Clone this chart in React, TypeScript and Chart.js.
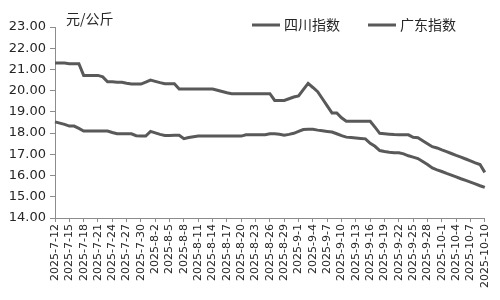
import React, { useEffect, useRef } from "react";
import { Chart, registerables } from "chart.js";

Chart.register(...registerables);

const unitLabel = "元/公斤";
const seriesNames = ["四川指数", "广东指数"];

// daily categories 2025-7-12 .. 2025-10-10
const categories: string[] = (() => {
  const out: string[] = [];
  const d = new Date(2025, 6, 12);
  for (let i = 0; i < 91; i++) {
    out.push(`${d.getFullYear()}-${d.getMonth() + 1}-${d.getDate()}`);
    d.setDate(d.getDate() + 1);
  }
  return out;
})();

const sichuan = [
  18.53, 18.47, 18.41, 18.33, 18.33, 18.22, 18.1, 18.1, 18.1, 18.1,
  18.1, 18.1, 18.03, 17.97, 17.97, 17.97, 17.97, 17.88, 17.86, 17.86,
  18.08, 18.01, 17.94, 17.89, 17.89, 17.9, 17.9, 17.74, 17.79, 17.83,
  17.86, 17.86, 17.86, 17.86, 17.86, 17.86, 17.86, 17.86, 17.86, 17.86,
  17.92, 17.92, 17.92, 17.92, 17.92, 17.97, 17.97, 17.95, 17.9, 17.94,
  17.99, 18.08, 18.17, 18.18, 18.18, 18.14, 18.11, 18.08, 18.05, 17.97,
  17.88, 17.81, 17.79, 17.77, 17.75, 17.73, 17.52, 17.38, 17.18, 17.13,
  17.1, 17.08, 17.07, 17.02, 16.93, 16.87, 16.8, 16.66, 16.52, 16.36,
  16.27, 16.19, 16.1, 16.02, 15.94, 15.85, 15.77, 15.69, 15.61, 15.52,
  15.44,
];

const guangdong = [
  21.3, 21.3, 21.3, 21.27, 21.27, 21.27, 20.72, 20.72, 20.72, 20.72,
  20.65, 20.42, 20.42, 20.4, 20.4, 20.35, 20.31, 20.31, 20.31, 20.4,
  20.5, 20.44, 20.38, 20.33, 20.33, 20.33, 20.08, 20.08, 20.08, 20.08,
  20.08, 20.08, 20.08, 20.08, 20.02, 19.96, 19.9, 19.86, 19.86, 19.86,
  19.86, 19.86, 19.86, 19.86, 19.86, 19.86, 19.54, 19.54, 19.54, 19.62,
  19.7, 19.75, 20.05, 20.34, 20.15, 19.95, 19.62, 19.28, 18.95, 18.95,
  18.72, 18.56, 18.56, 18.56, 18.56, 18.56, 18.56, 18.28, 17.99, 17.97,
  17.95, 17.93, 17.92, 17.92, 17.92, 17.8, 17.78, 17.64, 17.5, 17.36,
  17.3, 17.21, 17.13, 17.04, 16.95, 16.87, 16.78, 16.69, 16.6, 16.52,
  16.15,
];

const yMin = 14;
const yMax = 23;

const LINE = "#595959";
const AXIS = "#8c8c8c";
const TEXT = "#262626";

const overlayPlugin = {
  id: "overlay",
  afterDraw(chart: any) {
    const ctx = chart.ctx;
    ctx.save();
    ctx.font = '14px "Noto Sans CJK SC"';
    ctx.fillStyle = TEXT;
    ctx.textBaseline = "middle";
    ctx.textAlign = "left";
    ctx.fillText(unitLabel, 66, 19);
    const starts = [252, 368];
    seriesNames.forEach((name, i) => {
      const x = starts[i];
      ctx.strokeStyle = LINE;
      ctx.lineWidth = 3;
      ctx.beginPath();
      ctx.moveTo(x, 25);
      ctx.lineTo(x + 28, 25);
      ctx.stroke();
      ctx.fillText(name, x + 32, 25);
    });
    ctx.restore();
  },
};

export default function App() {
  const ref = useRef<HTMLCanvasElement | null>(null);
  useEffect(() => {
    document.body.style.margin = "0";
    if (!ref.current) return;
    const chart = new Chart(ref.current, {
      type: "line",
      data: {
        labels: categories,
        datasets: [
          {
            label: seriesNames[0],
            data: sichuan,
            borderColor: LINE,
            borderWidth: 3,
            pointRadius: 0,
            tension: 0,
          },
          {
            label: seriesNames[1],
            data: guangdong,
            borderColor: LINE,
            borderWidth: 3,
            pointRadius: 0,
            tension: 0,
          },
        ],
      },
      options: {
        animation: false,
        responsive: false,
        maintainAspectRatio: false,
        layout: { padding: { top: 27, right: 13, left: 0, bottom: 0 } },
        plugins: { legend: { display: false }, tooltip: { enabled: false } },
        scales: {
          x: {
            offset: false,
            grid: {
              display: true,
              drawOnChartArea: false,
              drawTicks: true,
              tickLength: 4,
              color: AXIS,
            },
            border: { display: true, color: AXIS, width: 1 },
            ticks: {
              autoSkip: false,
              minRotation: 90,
              maxRotation: 90,
              padding: 2,
              color: TEXT,
              font: { family: '"DejaVu Sans"', size: 11 },
              callback: (_v: any, i: number) => (i % 3 === 0 ? categories[i] : null),
            },
            afterFit: (s: any) => {
              s.height = 82;
            },
          },
          y: {
            min: yMin,
            max: yMax,
            grid: {
              display: true,
              drawOnChartArea: false,
              drawTicks: true,
              tickLength: 5,
              color: AXIS,
            },
            border: { display: true, color: AXIS, width: 1 },
            ticks: {
              stepSize: 1,
              padding: 4,
              color: TEXT,
              font: { family: '"DejaVu Sans"', size: 13 },
              callback: (v: any) => Number(v).toFixed(2),
            },
            afterFit: (s: any) => {
              s.width = 55;
            },
          },
        },
      },
      plugins: [overlayPlugin],
    });
    return () => chart.destroy();
  }, []);
  return <canvas ref={ref} width={500} height={300} style={{ display: "block" }} />;
}
